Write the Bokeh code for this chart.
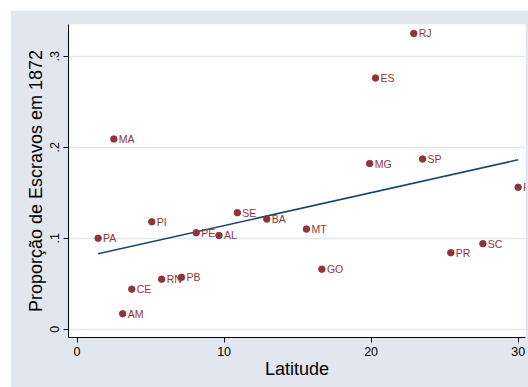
import numpy as np
from bokeh.plotting import figure
from bokeh.models import Range1d, FixedTicker, ColumnDataSource, Spacer
from bokeh.layouts import column, row
from bokeh.core.properties import value
from bokeh.embed import file_html
from bokeh.resources import INLINE

states = ["RJ", "ES", "MG", "SP", "RS", "MA", "PA", "PI", "PE", "AL",
          "SE", "RN", "PB", "CE", "AM", "BA", "MT", "GO", "PR", "SC"]
latitude = [22.9, 20.3, 19.9, 23.5, 30.0, 2.5, 1.43, 5.08, 8.1, 9.65,
            10.9, 5.75, 7.1, 3.72, 3.1, 12.9, 15.6, 16.65, 25.42, 27.6]
proporcao = [0.325, 0.276, 0.182, 0.187, 0.156, 0.209, 0.100, 0.118, 0.106, 0.103,
             0.128, 0.055, 0.057, 0.044, 0.017, 0.121, 0.110, 0.066, 0.084, 0.094]

x_ticks = [0, 10, 20, 30]
y_ticks = [0, 0.1, 0.2, 0.3]
y_tick_labels = {0: "0", 0.1: ".1", 0.2: ".2", 0.3: ".3"}

BG = "#e1e6ef"
MAROON = "#90353b"
NAVY = "#1a476f"
FONT = "Liberation Sans"

# linear fit (OLS) of the data
slope, intercept = np.polyfit(latitude, proporcao, 1)
xfit = [min(latitude), max(latitude)]
yfit = [intercept + slope * v for v in xfit]

p = figure(width=518, height=377, output_backend="svg", toolbar_location=None,
           x_range=Range1d(-0.585, 30.5), y_range=Range1d(-0.0091, 0.3348),
           min_border_left=58, min_border_right=3, min_border_top=14, min_border_bottom=50,
           background_fill_color="white", border_fill_color=BG)
p.outline_line_color = None

src = ColumnDataSource(dict(x=latitude, y=proporcao, s=states))
p.line(xfit, yfit, line_color=NAVY, line_width=1.5)
p.scatter("x", "y", source=src, size=6.5, fill_color=MAROON, line_color=MAROON)
p.text("x", "y", text="s", source=src, x_offset=5, text_baseline="middle",
       text_font_size="10.5px", text_color=MAROON, text_font=value(FONT))

p.xgrid.visible = False
p.ygrid.ticker = FixedTicker(ticks=y_ticks)
p.ygrid.grid_line_color = "#e3e7ef"
p.ygrid.grid_line_width = 1.5

xa = p.xaxis[0]
xa.ticker = FixedTicker(ticks=x_ticks)
xa.axis_label = "Latitude"
ya = p.yaxis[0]
ya.ticker = FixedTicker(ticks=y_ticks)
ya.major_label_overrides = y_tick_labels
ya.major_label_orientation = "vertical"
ya.axis_label = "Proporção de Escravos em 1872"

for ax in (xa, ya):
    ax.axis_line_color = "black"
    ax.axis_line_width = 1
    ax.major_tick_line_color = "black"
    ax.major_tick_out = 5
    ax.major_tick_in = 0
    ax.minor_tick_line_color = None
    ax.major_label_text_font = FONT
    ax.major_label_text_font_size = "12.5px"
    ax.major_label_text_color = "black"
    ax.major_label_standoff = 4
    ax.axis_label_text_font = FONT
    ax.axis_label_text_font_size = "18px"
    ax.axis_label_text_font_style = "normal"
    ax.axis_label_text_color = "black"
    ax.axis_label_standoff = 2
xa.axis_label_standoff = 0

layout = column(Spacer(height=10), row(Spacer(width=10), p))
open("out.html", "w").write(file_html(layout, INLINE))
